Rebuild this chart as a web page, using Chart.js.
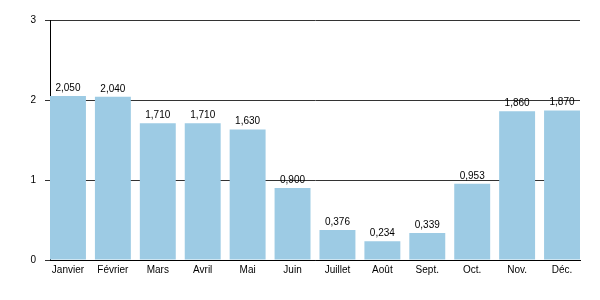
<!DOCTYPE html>
<html>
<head>
<meta charset="utf-8">
<script src="https://cdn.jsdelivr.net/npm/chart.js@4/dist/chart.umd.min.js"></script>
<style>
  html, body { margin: 0; padding: 0; background: #fff; }
  #wrap { width: 600px; height: 300px; }
</style>
</head>
<body>
<div id="wrap"><canvas id="myChart" width="600" height="300"></canvas></div>
<script>
const months = ['Janvier', 'Février', 'Mars', 'Avril', 'Mai', 'Juin', 'Juillet', 'Août', 'Sept.', 'Oct.', 'Nov.', 'Déc.'];
const values = [2.05, 2.04, 1.71, 1.71, 1.63, 0.9, 0.376, 0.234, 0.339, 0.953, 1.86, 1.87];
const yTicks = [0, 1, 2, 3];

const fontFamily = '"Liberation Sans", Arial, Helvetica, sans-serif';

// value labels above each bar, comma as decimal separator
const valueLabels = {
  id: 'valueLabels',
  afterDatasetsDraw(chart) {
    const c = chart.ctx;
    const meta = chart.getDatasetMeta(0);
    c.save();
    c.font = '10px ' + fontFamily;
    c.fillStyle = '#000';
    c.textAlign = 'center';
    c.textBaseline = 'bottom';
    meta.data.forEach((bar, i) => {
      const txt = values[i].toFixed(3).replace('.', ',');
      c.fillText(txt, bar.x, bar.y - 3);
    });
    c.restore();
  }
};

const ctx = document.getElementById('myChart').getContext('2d');
let myChart = new Chart(ctx, {
  type: 'bar',
  data: {
    datasets: [{
      data: values.map((v, i) => ({ x: i, y: v })),
      backgroundColor: '#9dcbe4',
      borderWidth: 0,
      barPercentage: 0.8,
      categoryPercentage: 1
    }]
  },
  options: {
    responsive: false,
    animation: false,
    layout: { padding: { top: 20, right: 20, left: 0, bottom: 0 } },
    plugins: { legend: { display: false }, tooltip: { enabled: false } },
    scales: {
      x: {
        type: 'linear',
        offset: false,
        min: -0.4,
        max: 11.4,
        afterBuildTicks(scale) { scale.ticks = months.map((m, i) => ({ value: i })); },
        grid: { display: false, drawTicks: false },
        border: { display: true, color: '#000', width: 1 },
        ticks: {
          color: '#000',
          font: { size: 10, family: fontFamily },
          padding: 4,
          maxRotation: 0,
          autoSkip: false,
          callback: (v) => months[v]
        },
        afterFit(scale) { scale.height = 40; }
      },
      y: {
        min: 0,
        max: 3,
        afterBuildTicks(scale) { scale.ticks = yTicks.map(v => ({ value: v })); },
        grid: { color: '#333', lineWidth: 1, drawTicks: true, tickLength: 5 },
        border: { display: true, color: '#000', width: 1 },
        ticks: { color: '#000', font: { size: 10, family: fontFamily }, padding: 9 },
        afterFit(scale) { scale.width = 50; }
      }
    }
  },
  plugins: [valueLabels]
});
</script>
</body>
</html>
